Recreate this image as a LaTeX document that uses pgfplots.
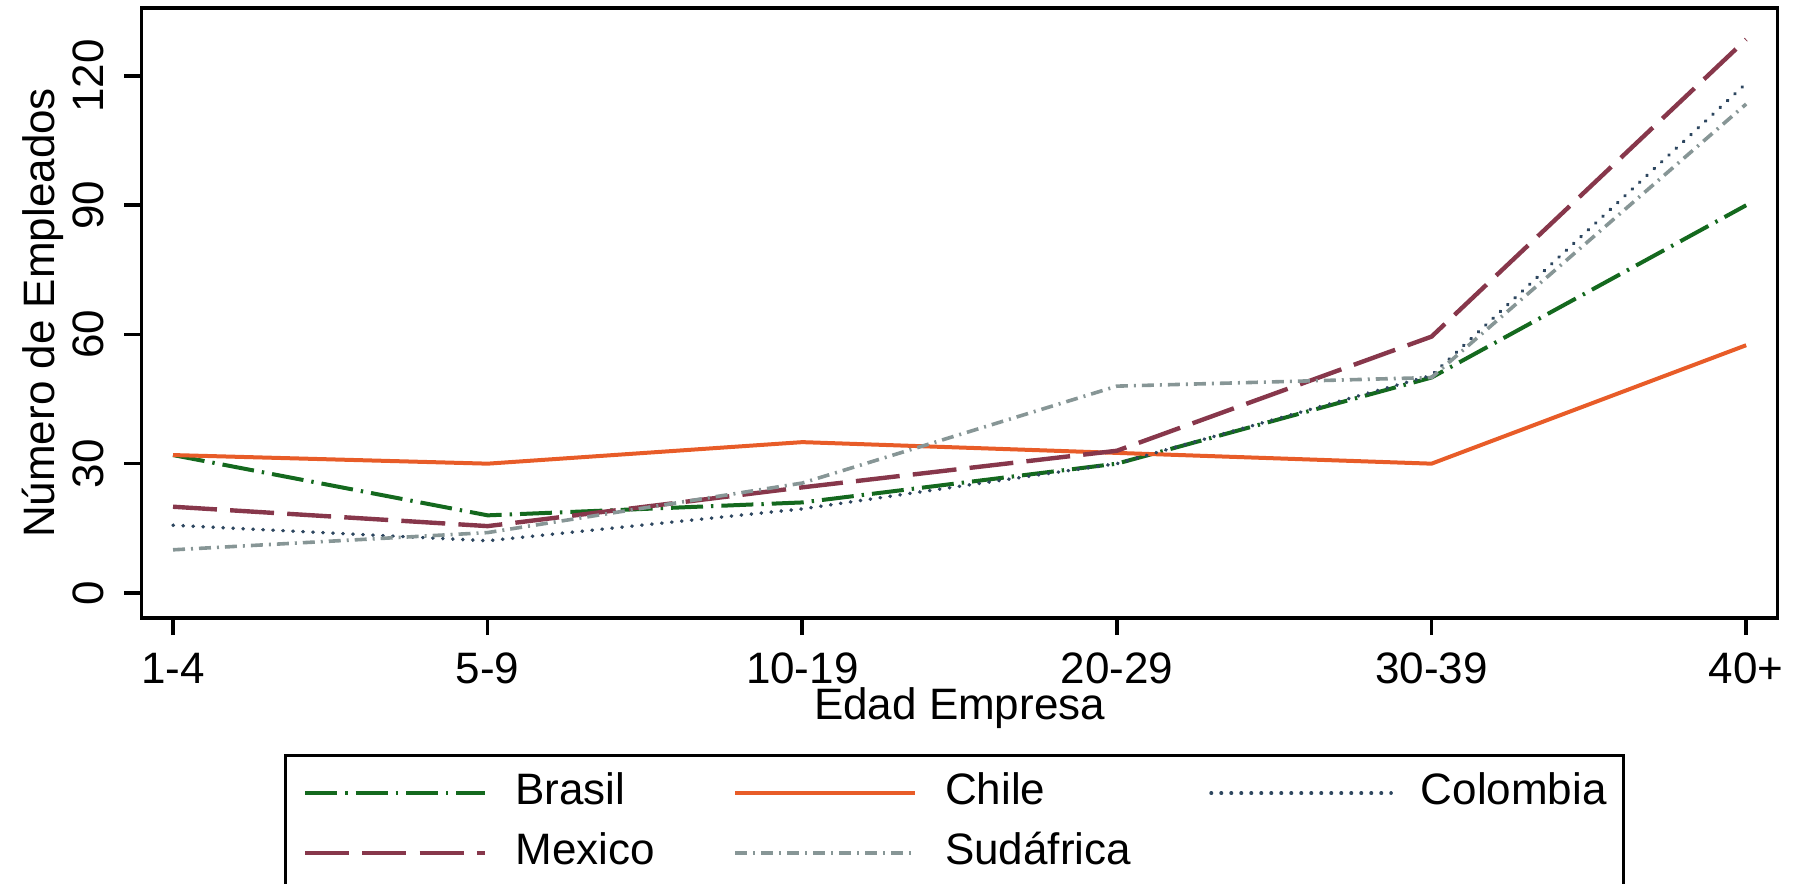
\documentclass[border=0pt]{standalone}
\usepackage{fontspec}
\setmainfont{Liberation Sans}
\usepackage{pgfplots}
\pgfplotsset{compat=1.18}

\definecolor{cbrasil}{RGB}{20,105,30}
\definecolor{cchile}{RGB}{232,92,40}
\definecolor{ccolombia}{RGB}{45,70,95}
\definecolor{cmexico}{RGB}{135,55,75}
\definecolor{csudafrica}{RGB}{135,150,150}

\begin{document}
\begin{tikzpicture}[font=\fontsize{11}{13}\selectfont]
\begin{axis}[
    name=ax,
    at={(0,0)}, anchor=south west,
    scale only axis,
    width=409.1pt, height=152.5pt,
    xmin=-0.1, xmax=5.1,
    ymin=-5.8, ymax=135.8,
    xtick={0,1,2,3,4,5},
    xticklabels={1-4,5-9,10-19,20-29,30-39,40+},
    ytick={0,30,60,90,120},
    xtick pos=bottom, ytick pos=left,
    tick align=outside,
    major tick length=4.3pt,
    axis line style={line width=0.9pt},
    tick style={line width=0.9pt, black},
    /pgf/number format/assume math mode=true,
    xticklabel style={anchor=north, yshift=-1pt},
    yticklabel style={xshift=-5pt, rotate=90, anchor=south, inner sep=0pt},
    xlabel={Edad Empresa},
    ylabel={Número de Empleados},
    xlabel style={at={(axis description cs:0.5,0)}, anchor=base, yshift=-25.3pt, inner sep=0pt},
    ylabel style={at={(axis description cs:-0.0535,0.5)}, anchor=base, inner sep=0pt},
    legend columns=3,
    legend cell align=left,
    legend image code/.code={\draw[#1] (0pt,2.8pt) -- (45pt,2.8pt);},
    legend style={
        at={(axis description cs:0.0872,-0.2226)}, anchor=north west,
        draw=black, line width=0.8pt,
        inner xsep=4.3pt, inner ysep=4.3pt,
        nodes={inner sep=0pt, anchor=base west, text height=8pt, text depth=2.5pt},
        row sep=4.5pt,
        /tikz/every odd column/.append style={column sep=7pt},
        /tikz/every even column/.append style={column sep=19.6pt},
    },
]
% Brasil
\addplot[cbrasil, line width=1pt, dash pattern=on 8pt off 2pt on 0.6pt off 2pt] coordinates {
    (0,32) (1,18) (2,21) (3,30) (4,50) (5,90)};
\addlegendentry{Brasil}
% Chile
\addplot[cchile, line width=1pt] coordinates {
    (0,32) (1,30) (2,35) (3,32.5) (4,30) (5,57.5)};
\addlegendentry{Chile}
% Colombia
\addplot[ccolombia, line width=0.9pt, line cap=round, dash pattern=on 0.1pt off 2.4pt] coordinates {
    (0,15.7) (1,12.1) (2,19.5) (3,30) (4,50.5) (5,118.3)};
\addlegendentry{Colombia}
% Mexico
\addplot[cmexico, line width=1.1pt, dash pattern=on 11pt off 3.3pt] coordinates {
    (0,20) (1,15.5) (2,24.5) (3,33) (4,59.5) (5,128.5)};
\addlegendentry{Mexico}
% Sudafrica
\addplot[csudafrica, line width=0.9pt, dash pattern=on 3pt off 1.5pt on 0.5pt off 1.5pt] coordinates {
    (0,10) (1,14) (2,25.5) (3,48) (4,50) (5,113.5)};
\addlegendentry{Sudáfrica}
\end{axis}
\pgfresetboundingbox
\useasboundingbox (-35.4pt,-66.5pt) rectangle (415.7pt,154.5pt);
\end{tikzpicture}
\end{document}
